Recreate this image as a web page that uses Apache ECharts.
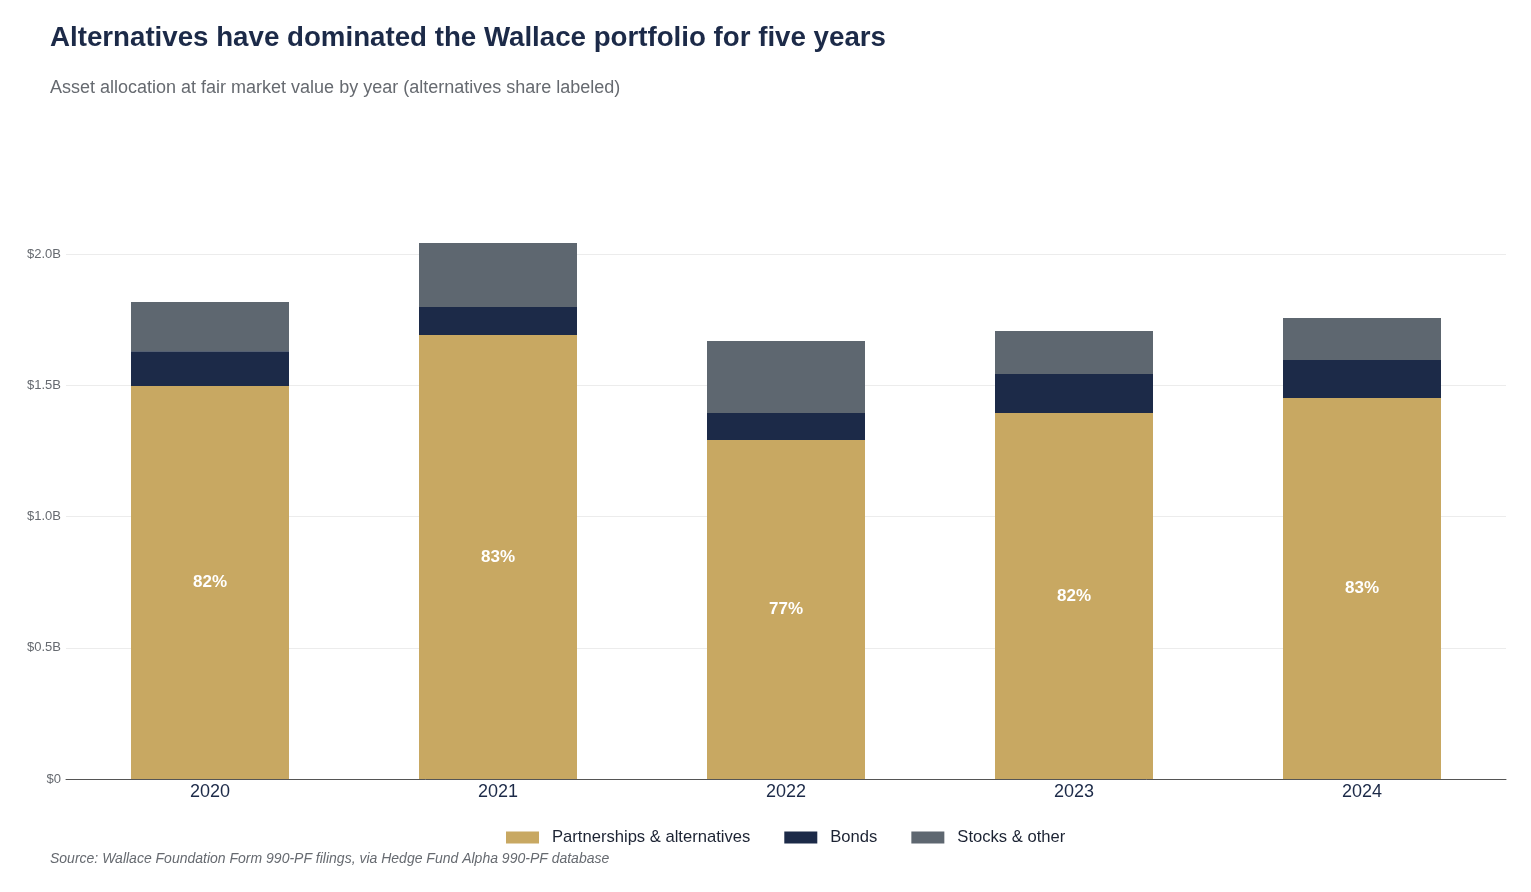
<!DOCTYPE html>
<html>
<head>
<meta charset="utf-8">
<script src="https://cdn.jsdelivr.net/npm/echarts@6/dist/echarts.min.js"></script>
<style>
  html, body { margin: 0; padding: 0; background: #fff; }
  #chart { width: 1531px; height: 892px; }
</style>
</head>
<body>
<div id="chart"></div>
<script>
// values in $B
const years = ["2020", "2021", "2022", "2023", "2024"];
const alternatives = [1.497, 1.691, 1.291, 1.394, 1.451];
const bonds = [0.133, 0.107, 0.103, 0.149, 0.145];
const stocks = [0.187, 0.244, 0.275, 0.164, 0.160];
const altShare = ["82%", "83%", "77%", "82%", "83%"];

const chart = echarts.init(document.getElementById("chart"));

chart.setOption({
  animation: false,
  textStyle: { fontFamily: "Liberation Sans, Arial, sans-serif" },
  title: [
    {
      text: "Alternatives have dominated the Wallace portfolio for five years",
      left: 45,
      top: 19,
      textStyle: { fontSize: 27.7, fontWeight: "bold", color: "#1c2a48" },
    },
    {
      text: "Asset allocation at fair market value by year (alternatives share labeled)",
      left: 45,
      top: 74,
      textStyle: { fontSize: 18, fontWeight: "normal", color: "#666a70" },
    },
    {
      text: "Source: Wallace Foundation Form 990-PF filings, via Hedge Fund Alpha 990-PF database",
      left: 45,
      top: 847,
      textStyle: { fontSize: 14, fontWeight: "normal", fontStyle: "italic", color: "#666a70" },
    },
  ],
  legend: {
    bottom: 41,
    left: 501,
    itemWidth: 33,
    itemHeight: 12,
    itemGap: 34,
    icon: "rect",
    textStyle: { fontSize: 16.6, color: "#1c2333", padding: [0, 0, 0, 8] },
    data: ["Partnerships & alternatives", "Bonds", "Stocks & other"],
  },
  grid: {
    left: 66,
    right: 25,
    top: 201.5,
    bottom: 113,
  },
  xAxis: {
    type: "category",
    data: years,
    axisTick: { show: false },
    axisLine: { lineStyle: { color: "#555" } },
    axisLabel: { fontSize: 18, color: "#1c2a48", margin: 4 },
  },
  yAxis: {
    type: "value",
    min: 0,
    max: 2.2,
    interval: 0.5,
    axisLabel: {
      fontSize: 13,
      color: "#666a70",
      showMaxLabel: false,
      margin: 5,
      formatter: (v) => (v === 0 ? "$0" : "$" + v.toFixed(1) + "B"),
    },
    splitLine: { showMaxLine: false, lineStyle: { color: "#ececec" } },
  },
  series: [
    {
      name: "Partnerships & alternatives",
      type: "bar",
      stack: "total",
      barWidth: 158,
      data: alternatives,
      itemStyle: { color: "#c8a862" },
      label: {
        show: true,
        position: "inside",
        color: "#fff",
        fontSize: 17,
        fontWeight: "bold",
        formatter: (p) => altShare[p.dataIndex],
      },
    },
    {
      name: "Bonds",
      type: "bar",
      stack: "total",
      barWidth: 158,
      data: bonds,
      itemStyle: { color: "#1c2a48" },
    },
    {
      name: "Stocks & other",
      type: "bar",
      stack: "total",
      barWidth: 158,
      data: stocks,
      itemStyle: { color: "#5e6770" },
    },
  ],
});
</script>
</body>
</html>
